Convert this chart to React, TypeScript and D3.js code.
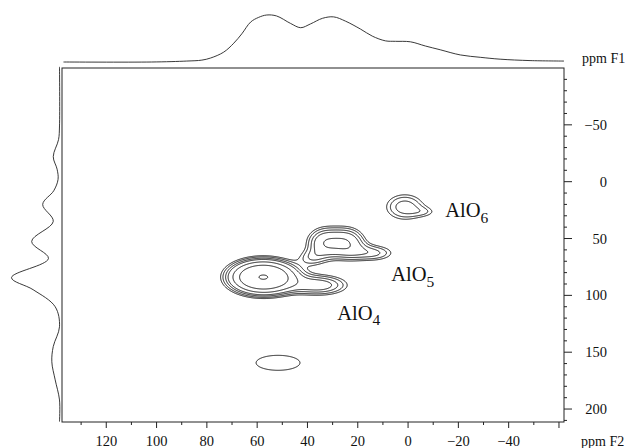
import React, { useMemo } from "react";
import * as d3 from "d3";

const W = 629;
const H = 448;
const FRAME = { left: 62, right: 564, top: 68, bottom: 422 };

const F2_DOMAIN = [137.6, -62];
const F1_DOMAIN = [-100, 211.4];

const F2_MAJOR = [120, 100, 80, 60, 40, 20, 0, -20, -40, -60];
const F2_LABELS = ["120", "100", "80", "60", "40", "20", "0", "\u221220", "\u221240", ""];
const F2_MINOR = [130, 110, 90, 70, 50, 30, 10, -10, -30, -50];
const F1_MAJOR = [-50, 0, 50, 100, 150, 200];
const F1_LABELS = ["\u221250", "0", "50", "100", "150", "200"];
const F1_MINOR = [-90, -80, -70, -60, -40, -30, -20, -10, 10, 20, 30, 40, 60, 70, 80, 90, 110, 120, 130, 140, 160, 170, 180, 190, 210];

// F2 projection (top): ppm, relative intensity
const TOP_PPM = [137, 102, 88, 82, 78.5, 73.3, 69.3, 66.1, 62.6, 59.4, 56.2, 52.3, 46.7, 42.7, 38.8, 34, 29.6, 24.9, 18.9, 14.2, 9, 5, -0.9, -6.9, -12.8, -20.8, -28.7, -36.6, -48.5, -62];
const TOP_INT = [0, 0, 2, 4, 8.5, 21, 40, 60, 85, 95, 100, 98, 82, 73, 81, 93, 96, 87, 70, 55, 45, 44, 43, 34, 26, 15, 10, 6, 3, 2];

// F1 projection (left): ppm, relative intensity
const LEFT_PPM = [-101, -49, -37, -22, -11, -2, 8, 20, 35, 52.6, 67.6, 84.4, 95, 110, 127.6, 145, 158.4, 174.3, 192, 211];
const LEFT_INT = [0, 0, 2, 13, 5, 3, 12, 35, 13, 58, 23, 100, 55, 9, 0, 13, 16, 9, 0, 0];

// 2D spectrum components: F2 centre, F1 centre, F2 width, F1 width, amplitude
// AlO4, AlO4 tail, bridge, AlO5 a, AlO5 b, AlO5 tail, AlO6, AlO6 tail, minor site
const PEAK_F2 = [57.8, 35.7, 38.8, 33.4, 24.3, 14.2, 1.5, -7.0, 51.9];
const PEAK_F1 = [83.5, 90.6, 66.8, 53.5, 53.5, 62.3, 21.8, 26.2, 158.9];
const PEAK_W2 = [7.54, 7.94, 3.97, 4.76, 4.76, 6.35, 5.95, 3.97, 13.1];
const PEAK_W1 = [8.38, 6.17, 5.29, 9.08, 9.08, 5.29, 8.82, 3.53, 9.9];
const PEAK_A = [1.0, 0.22, 0.1, 0.245, 0.245, 0.15, 0.167, 0.06, 0.1];

const LEVELS = [0.08, 0.105, 0.14, 0.18, 0.28, 0.46, 0.975];

const LABEL_TEXT = ["AlO", "AlO", "AlO"];
const LABEL_SUB = ["6", "5", "4"];
const LABEL_F2 = [-14.8, 6.7, 28.2];
const LABEL_F1 = [31.5, 87.7, 121.4];

const SERIF = "'Times New Roman', 'Liberation Serif', serif";

export default function App() {
  const x = d3.scaleLinear().domain(F2_DOMAIN).range([FRAME.left, FRAME.right]);
  const y = d3.scaleLinear().domain(F1_DOMAIN).range([FRAME.top, FRAME.bottom]);
  const topY = d3.scaleLinear().domain([0, 100]).range([62, 15]);
  const leftX = d3.scaleLinear().domain([0, 100]).range([59.5, 11.5]);

  const contourPaths = useMemo(() => {
    const nx = FRAME.right - FRAME.left;
    const ny = FRAME.bottom - FRAME.top;
    const vals = new Array(nx * ny);
    let mx = 0;
    for (let j = 0; j < ny; j++) {
      const f1 = y.invert(FRAME.top + j);
      for (let i = 0; i < nx; i++) {
        const f2 = x.invert(FRAME.left + i);
        let s = 0;
        for (let k = 0; k < PEAK_A.length; k++) {
          const a = (f2 - PEAK_F2[k]) / PEAK_W2[k];
          const b = (f1 - PEAK_F1[k]) / PEAK_W1[k];
          s += PEAK_A[k] * Math.exp(-0.5 * (a * a + b * b));
        }
        vals[j * nx + i] = s;
        if (s > mx) mx = s;
      }
    }
    const norm = vals.map((v) => v / mx);
    const cs = d3.contours().size([nx, ny]).thresholds(LEVELS)(norm);
    const path = d3.geoPath(
      d3.geoTransform({
        point(px: number, py: number) {
          (this as any).stream.point(FRAME.left + px, FRAME.top + py);
        },
      })
    );
    return cs.map((c) => path(c as any) || "");
  }, []);

  const topLine = d3
    .line<number>()
    .x((_, i) => x(TOP_PPM[i]))
    .y((d) => topY(d))
    .curve(d3.curveCatmullRom.alpha(0.5));
  const leftLine = d3
    .line<number>()
    .x((d) => leftX(d))
    .y((_, i) => y(LEFT_PPM[i]))
    .curve(d3.curveCatmullRom.alpha(0.5));

  const txt = { fontFamily: SERIF, fill: "#111" } as React.CSSProperties;

  return (
    <svg width={W} height={H} style={{ position: "absolute", left: 0, top: 0, background: "#fff" }}>
      <rect x={0} y={0} width={W} height={H} fill="#fff" />
      <path d={topLine(TOP_INT) || ""} fill="none" stroke="#222" strokeWidth={0.9} />
      <path d={leftLine(LEFT_INT) || ""} fill="none" stroke="#222" strokeWidth={0.9} />
      <rect
        x={FRAME.left}
        y={FRAME.top}
        width={FRAME.right - FRAME.left}
        height={FRAME.bottom - FRAME.top}
        fill="none"
        stroke="#222"
        strokeWidth={1}
      />
      {contourPaths.map((d, i) => (
        <path key={i} d={d} fill="none" stroke="#1a1a1a" strokeWidth={1} />
      ))}
      {F2_MAJOR.map((v) => (
        <line key={"m" + v} x1={x(v)} x2={x(v)} y1={FRAME.bottom} y2={FRAME.bottom + 6} stroke="#222" strokeWidth={1} />
      ))}
      {F2_MINOR.map((v) => (
        <line key={"n" + v} x1={x(v)} x2={x(v)} y1={FRAME.bottom} y2={FRAME.bottom + 3} stroke="#222" strokeWidth={1} />
      ))}
      {F2_MAJOR.map((v, i) => (
        <text key={"l" + v} x={x(v)} y={446} textAnchor="middle" style={{ ...txt, fontSize: 14.5 }}>
          {F2_LABELS[i]}
        </text>
      ))}
      <text x={581} y={446} style={{ ...txt, fontSize: 14 }}>ppm F2</text>
      {F1_MAJOR.map((v) => (
        <line key={"M" + v} x1={FRAME.right} x2={FRAME.right + 8} y1={y(v)} y2={y(v)} stroke="#222" strokeWidth={1} />
      ))}
      {F1_MINOR.map((v) => (
        <line key={"N" + v} x1={FRAME.right} x2={FRAME.right + 3} y1={y(v)} y2={y(v)} stroke="#222" strokeWidth={1} />
      ))}
      {F1_MAJOR.map((v, i) => (
        <text key={"L" + v} x={607} y={y(v) + 5} textAnchor="end" style={{ ...txt, fontSize: 14.5 }}>
          {F1_LABELS[i]}
        </text>
      ))}
      <text x={582} y={63} style={{ ...txt, fontSize: 14 }}>ppm F1</text>
      {LABEL_TEXT.map((t, i) => (
        <text key={"a" + i} x={x(LABEL_F2[i])} y={y(LABEL_F1[i])} style={{ ...txt, fontSize: 20.5 }}>
          {t}
          <tspan style={{ fontSize: 15.5 }} dy={5.5}>{LABEL_SUB[i]}</tspan>
        </text>
      ))}
    </svg>
  );
}
